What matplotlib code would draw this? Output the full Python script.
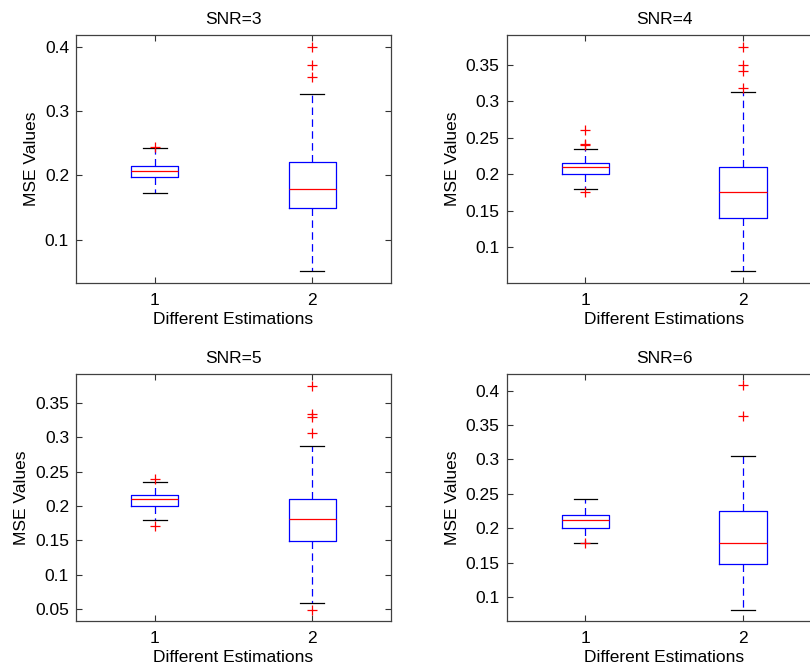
import matplotlib
matplotlib.use('Agg')
import matplotlib.pyplot as plt

# Box statistics, one entry per SNR panel
snr_levels = [3, 4, 5, 6]
positions = [1, 2]

q1 = [[0.197, 0.149], [0.200, 0.1404], [0.1995, 0.1486], [0.2011, 0.1487]]
med = [[0.2075, 0.1785], [0.2092, 0.1757], [0.2097, 0.1806], [0.2127, 0.1792]]
q3 = [[0.215, 0.2214], [0.2156, 0.210], [0.2165, 0.2107], [0.219, 0.2253]]
whislo = [[0.172, 0.052], [0.179, 0.067], [0.180, 0.0585], [0.1787, 0.0818]]
whishi = [[0.242, 0.327], [0.2344, 0.3124], [0.2354, 0.2869], [0.2423, 0.3054]]
fliers = [
    [[0.2435], [0.400, 0.3716, 0.3525]],
    [[0.2606, 0.2412, 0.2395, 0.1757], [0.375, 0.350, 0.3417, 0.318]],
    [[0.2393, 0.1704], [0.375, 0.3335, 0.3301, 0.3058, 0.0488]],
    [[0.1787], [0.408, 0.3629]],
]

ylims = [(0.033, 0.418), (0.0505, 0.391), (0.032, 0.392), (0.065, 0.424)]
yticks = [
    [0.1, 0.2, 0.3, 0.4],
    [0.1, 0.15, 0.2, 0.25, 0.3, 0.35],
    [0.05, 0.1, 0.15, 0.2, 0.25, 0.3, 0.35],
    [0.1, 0.15, 0.2, 0.25, 0.3, 0.35, 0.4],
]
ytick_labels = [
    ['0.1', '0.2', '0.3', '0.4'],
    ['0.1', '0.15', '0.2', '0.25', '0.3', '0.35'],
    ['0.05', '0.1', '0.15', '0.2', '0.25', '0.3', '0.35'],
    ['0.1', '0.15', '0.2', '0.25', '0.3', '0.35', '0.4'],
]

# axes rectangles in figure fraction (right column runs past the edge like the original)
axes_rects = [
    [0.0938, 0.5763, 0.3889, 0.3713],
    [0.6255, 0.5763, 0.3889, 0.3713],
    [0.0938, 0.0699, 0.3889, 0.3702],
    [0.6255, 0.0699, 0.3889, 0.3702],
]

plt.rcParams['font.family'] = ['Liberation Sans', 'DejaVu Sans']
plt.rcParams['font.size'] = 12.5

fig = plt.figure(figsize=(8.1, 6.68), dpi=100)
fig.patch.set_facecolor('white')

for k, snr in enumerate(snr_levels):
    ax = fig.add_axes(axes_rects[k])
    stats = []
    for j in range(len(positions)):
        stats.append({
            'med': med[k][j], 'q1': q1[k][j], 'q3': q3[k][j],
            'whislo': whislo[k][j], 'whishi': whishi[k][j],
            'fliers': fliers[k][j],
        })
    ax.bxp(stats, positions=positions, widths=0.3, capwidths=0.15,
           boxprops=dict(color='#0000ff', linewidth=0.9),
           medianprops=dict(color='#ff0000', linewidth=0.9),
           whiskerprops=dict(color='#0000ff', linewidth=0.9, linestyle=(0, (6, 3.5))),
           capprops=dict(color='black', linewidth=0.9),
           flierprops=dict(marker='+', markeredgecolor='#ff0000', markersize=7,
                           markeredgewidth=0.9, linestyle='none'))

    ax.set_xlim(0.5, 2.5)
    ax.set_ylim(*ylims[k])
    ax.set_xticks(positions)
    ax.set_xticklabels(['1', '2'])
    ax.set_yticks(yticks[k])
    ax.set_yticklabels(ytick_labels[k])
    ax.tick_params(direction='in', length=4, width=0.8, top=True, right=True,
                   color='#333333', labelsize=12.5)
    ax.tick_params(axis='x', pad=7)
    ax.tick_params(axis='y', pad=5)
    for sp in ax.spines.values():
        sp.set_color('#404040')
        sp.set_linewidth(0.9)

    ax.set_title(f'SNR={snr}', fontsize=12.5, pad=8)
    ax.set_xlabel('Different Estimations', fontsize=12.5, labelpad=3)
    ax.set_ylabel('MSE Values', fontsize=12.5, labelpad=4)

plt.savefig('out.png', dpi=100)
